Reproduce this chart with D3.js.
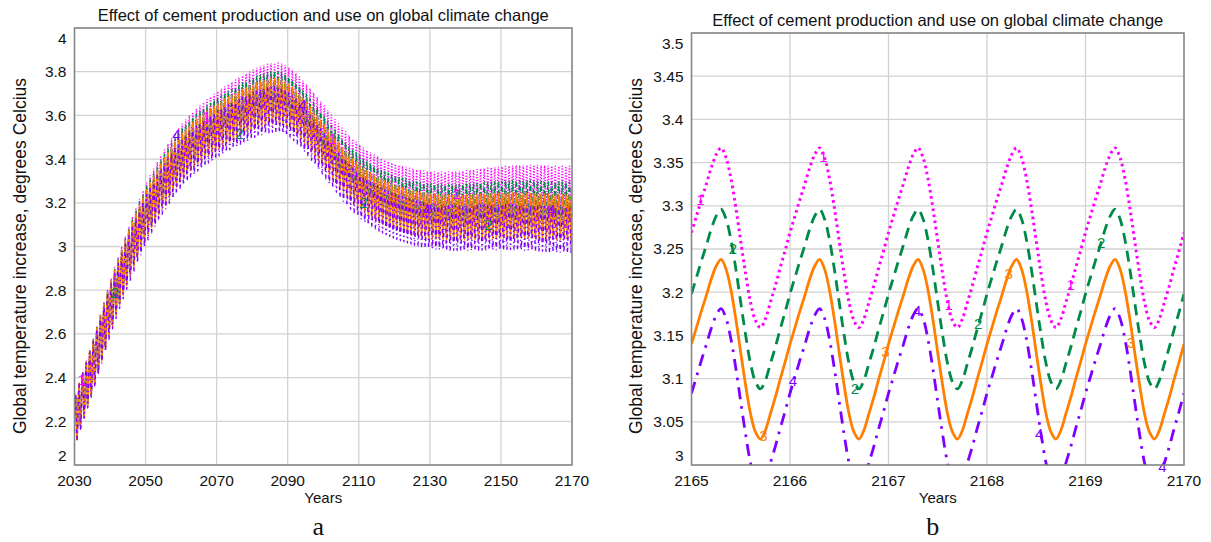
<!DOCTYPE html>
<html>
<head>
<meta charset="utf-8">
<script src="https://cdn.jsdelivr.net/npm/d3@7"></script>
<style>
  body { margin: 0; background: #fff; }
  svg { display: block; font-family: "Liberation Sans", Arial, sans-serif; }
  .grid line { stroke: #d2d2d2; stroke-width: 1.3; }
  .tick-label { font-size: 15.5px; fill: #111; }
  .axis-title { font-size: 15px; fill: #111; }
  .y-title { font-size: 17.5px; fill: #111; }
  .ttl { font-size: 16.5px; fill: #111; }
  .letter { font-family: "Liberation Serif", "Times New Roman", serif; font-size: 26px; fill: #111; }
</style>
</head>
<body>
<div id="chart"></div>
<script>
// annual mean temperature increase per scenario, 2030..2170
var startYear = 2030
var meanS1 = [2.220,2.271,2.322,2.373,2.424,2.475,2.531,2.587,2.643,2.699,
  2.750,2.800,2.849,2.896,2.943,2.988,3.032,3.074,3.114,3.152,
  3.188,3.221,3.252,3.283,3.312,3.339,3.366,3.391,3.415,3.437,
  3.458,3.477,3.495,3.511,3.527,3.541,3.556,3.569,3.582,3.594,
  3.607,3.618,3.629,3.639,3.649,3.659,3.669,3.678,3.687,3.696,
  3.705,3.713,3.720,3.726,3.731,3.735,3.737,3.737,3.733,3.726,
  3.715,3.703,3.689,3.673,3.656,3.638,3.619,3.600,3.580,3.560,
  3.540,3.520,3.499,3.479,3.459,3.440,3.422,3.405,3.389,3.375,
  3.361,3.349,3.337,3.327,3.317,3.309,3.300,3.293,3.286,3.280,
  3.274,3.269,3.264,3.260,3.255,3.252,3.248,3.246,3.243,3.241,
  3.239,3.238,3.238,3.238,3.238,3.238,3.239,3.240,3.241,3.242,
  3.244,3.246,3.248,3.250,3.252,3.254,3.256,3.258,3.259,3.261,
  3.262,3.264,3.265,3.266,3.267,3.268,3.268,3.269,3.269,3.270,
  3.269,3.268,3.267,3.266,3.265,3.264,3.264,3.264,3.264,3.264,3.264]
var meanS2 = [2.220,2.270,2.321,2.371,2.422,2.472,2.528,2.583,2.639,2.694,
  2.745,2.793,2.841,2.887,2.933,2.977,3.020,3.061,3.100,3.137,
  3.172,3.204,3.234,3.265,3.293,3.320,3.346,3.371,3.394,3.416,
  3.436,3.454,3.471,3.487,3.502,3.515,3.529,3.541,3.553,3.565,
  3.577,3.588,3.598,3.607,3.617,3.626,3.635,3.644,3.652,3.661,
  3.669,3.677,3.683,3.689,3.693,3.697,3.698,3.698,3.693,3.686,
  3.674,3.661,3.647,3.630,3.612,3.594,3.574,3.555,3.534,3.514,
  3.493,3.473,3.452,3.431,3.411,3.392,3.374,3.356,3.340,3.325,
  3.312,3.299,3.287,3.277,3.267,3.258,3.249,3.241,3.234,3.228,
  3.222,3.216,3.211,3.207,3.202,3.198,3.194,3.191,3.188,3.186,
  3.184,3.183,3.182,3.182,3.181,3.181,3.181,3.182,3.182,3.183,
  3.184,3.185,3.187,3.188,3.189,3.191,3.192,3.194,3.194,3.196,
  3.196,3.198,3.198,3.199,3.199,3.199,3.199,3.199,3.199,3.199,
  3.198,3.197,3.196,3.195,3.194,3.193,3.193,3.193,3.193,3.193,3.193]
var meanS3 = [2.220,2.270,2.320,2.370,2.420,2.470,2.525,2.580,2.635,2.690,
  2.740,2.788,2.835,2.880,2.925,2.968,3.010,3.050,3.088,3.124,
  3.158,3.190,3.220,3.250,3.278,3.304,3.330,3.354,3.377,3.398,
  3.418,3.436,3.452,3.467,3.481,3.494,3.507,3.519,3.530,3.541,
  3.552,3.562,3.572,3.581,3.590,3.599,3.608,3.616,3.624,3.632,
  3.640,3.647,3.653,3.658,3.662,3.665,3.666,3.665,3.660,3.652,
  3.640,3.627,3.612,3.595,3.577,3.558,3.538,3.518,3.497,3.476,
  3.455,3.434,3.413,3.392,3.372,3.352,3.334,3.316,3.300,3.285,
  3.271,3.258,3.246,3.235,3.225,3.216,3.207,3.199,3.192,3.185,
  3.179,3.173,3.168,3.163,3.158,3.154,3.150,3.147,3.144,3.141,
  3.139,3.137,3.136,3.135,3.134,3.133,3.133,3.133,3.133,3.133,
  3.134,3.135,3.136,3.137,3.138,3.139,3.140,3.141,3.141,3.142,
  3.142,3.143,3.143,3.143,3.143,3.143,3.142,3.142,3.141,3.141,
  3.140,3.139,3.138,3.137,3.136,3.135,3.135,3.135,3.135,3.135,3.135]
var meanS4 = [2.220,2.269,2.318,2.366,2.415,2.464,2.518,2.572,2.625,2.679,
  2.728,2.775,2.821,2.865,2.909,2.950,2.991,3.030,3.067,3.102,
  3.135,3.166,3.196,3.225,3.252,3.277,3.302,3.326,3.348,3.369,
  3.388,3.406,3.421,3.436,3.450,3.462,3.475,3.487,3.497,3.508,
  3.519,3.529,3.538,3.547,3.556,3.564,3.573,3.581,3.588,3.596,
  3.604,3.611,3.616,3.621,3.625,3.628,3.629,3.627,3.622,3.614,
  3.602,3.589,3.574,3.557,3.539,3.519,3.499,3.479,3.458,3.437,
  3.415,3.394,3.373,3.352,3.332,3.312,3.293,3.275,3.259,3.244,
  3.230,3.217,3.205,3.194,3.184,3.175,3.166,3.158,3.150,3.143,
  3.137,3.131,3.126,3.121,3.116,3.111,3.107,3.103,3.100,3.097,
  3.095,3.093,3.091,3.090,3.088,3.087,3.087,3.086,3.086,3.085,
  3.086,3.087,3.087,3.088,3.088,3.089,3.090,3.090,3.090,3.090,
  3.090,3.091,3.090,3.090,3.089,3.089,3.088,3.087,3.086,3.085,
  3.084,3.083,3.082,3.080,3.079,3.078,3.078,3.078,3.078,3.078,3.078]

// seasonal swing around the annual mean, 20 steps per year
var cycle = [0.005,0.024,0.043,0.061,0.080,0.095,0.103,0.092,0.068,0.034,
  -0.005,-0.043,-0.076,-0.097,-0.105,-0.095,-0.076,-0.057,-0.036,-0.016]

var seriesNames = ['1', '2', '3', '4']
var seriesColors = ['#ff00ff', '#008a48', '#ff7f00', '#7f00ff']
var seriesMeans = [meanS1, meanS2, meanS3, meanS4]

var xTicksA = [2030, 2050, 2070, 2090, 2110, 2130, 2150, 2170]
var yTicksA = [2, 2.2, 2.4, 2.6, 2.8, 3, 3.2, 3.4, 3.6, 3.8, 4]
var xTicksB = [2165, 2166, 2167, 2168, 2169, 2170]
var yTicksB = [3, 3.05, 3.1, 3.15, 3.2, 3.25, 3.3, 3.35, 3.4, 3.45, 3.5]

// curve number labels [series index, year, value]
var labelsA = [[0, 2032, 2.39], [1, 2041.4, 2.787], [3, 2058.7, 3.51], [0, 2067.2, 3.594],
  [1, 2076.4, 3.515], [3, 2094.2, 3.65], [0, 2102.7, 3.495], [1, 2111.3, 3.198],
  [3, 2129.2, 3.17], [0, 2137.6, 3.243], [1, 2146.5, 3.098], [3, 2164.2, 3.167]]
var labelsB = [[0, 2165.09, 3.307], [1, 2165.42, 3.25], [2, 2165.73, 3.034], [3, 2166.03, 3.098],
  [0, 2166.34, 3.357], [1, 2166.66, 3.088], [2, 2166.97, 3.131], [3, 2167.29, 3.179],
  [0, 2167.61, 3.186], [1, 2167.91, 3.163], [2, 2168.22, 3.221], [3, 2168.53, 3.036],
  [0, 2168.85, 3.209], [1, 2169.16, 3.257], [2, 2169.46, 3.142], [3, 2169.78, 2.998]]

var W = 1211, H = 542

var svg = d3.select('#chart').append('svg')
    .attr('width', W)
    .attr('height', H)

function buildPoints(means, fromYear, toYear) {
    var pts = []
    for (var y = fromYear; y < toYear; y++) {
        cycle.forEach(function(c, k) {
            pts.push([y + k / cycle.length, means[y - startYear] + c])
        })
    }
    pts.push([toYear, means[toYear - startYear] + cycle[0]])
    return pts
}

function panel(opt) {
    var x = d3.scaleLinear().domain(opt.xDomain).range([opt.left, opt.right])
    var y = d3.scaleLinear().domain(opt.yDomain).range([opt.bottom, opt.top])
    var g = svg.append('g')

    g.append('clipPath').attr('id', opt.id)
        .append('rect')
        .attr('x', opt.left).attr('y', opt.top)
        .attr('width', opt.right - opt.left).attr('height', opt.bottom - opt.top)

    var grid = g.append('g').attr('class', 'grid')
    grid.selectAll('.vx').data(opt.xTicks).enter().append('line')
        .attr('x1', function(d){return x(d)}).attr('x2', function(d){return x(d)})
        .attr('y1', opt.top).attr('y2', opt.bottom)
    grid.selectAll('.hy').data(opt.yTicks).enter().append('line')
        .attr('x1', opt.left).attr('x2', opt.right)
        .attr('y1', function(d){return y(d)}).attr('y2', function(d){return y(d)})

    var line = d3.line()
        .x(function(d){return x(d[0])})
        .y(function(d){return y(d[1])})
        .curve(d3.curveCatmullRom)

    var lines = g.append('g').attr('clip-path', 'url(#' + opt.id + ')')
    seriesMeans.forEach(function(m, i) {
        lines.append('path')
            .datum(buildPoints(m, opt.xDomain[0], opt.xDomain[1]))
            .attr('d', line)
            .attr('fill', 'none')
            .attr('stroke', seriesColors[i])
            .attr('stroke-width', opt.widths[i])
            .attr('stroke-dasharray', opt.dashes[i])
    })

    g.append('g').selectAll('text').data(opt.labels).enter().append('text')
        .attr('x', function(d){return x(d[1])})
        .attr('y', function(d){return y(d[2])})
        .attr('dy', '0.35em')
        .attr('text-anchor', 'middle')
        .style('font-size', '15px')
        .style('fill', function(d){return seriesColors[d[0]]})
        .text(function(d){return seriesNames[d[0]]})

    g.append('rect')
        .attr('x', opt.left).attr('y', opt.top)
        .attr('width', opt.right - opt.left).attr('height', opt.bottom - opt.top)
        .attr('fill', 'none').attr('stroke', '#858585').attr('stroke-width', 1.5)

    // y tick labels, first and last nudged inside the box
    var last = opt.yTicks.length - 1
    g.selectAll('.yl').data(opt.yTicks).enter().append('text')
        .attr('class', 'tick-label')
        .attr('x', opt.left - 8)
        .attr('y', function(d, i){ return y(d) + (i === 0 ? -9 : i === last ? 11 : 0) })
        .attr('dy', '0.35em')
        .attr('text-anchor', 'end')
        .text(function(d){return d})

    g.selectAll('.xl').data(opt.xTicks).enter().append('text')
        .attr('class', 'tick-label')
        .attr('x', function(d){return x(d)})
        .attr('y', opt.bottom + 21)
        .attr('text-anchor', 'middle')
        .text(function(d){return d})

    var cx = (opt.left + opt.right) / 2
    g.append('text').attr('class', 'ttl')
        .attr('x', cx).attr('y', opt.titleY)
        .attr('text-anchor', 'middle')
        .text('Effect of cement production and use on global climate change')
    g.append('text').attr('class', 'axis-title')
        .attr('x', cx).attr('y', 503)
        .attr('text-anchor', 'middle')
        .text('Years')
    g.append('text').attr('class', 'y-title')
        .attr('transform', 'translate(' + opt.axisTitleX + ',' + opt.axisTitleY + ') rotate(-90)')
        .attr('text-anchor', 'middle')
        .text('Global temperature increase, degrees Celcius')
    g.append('text').attr('class', 'letter')
        .attr('x', cx - 5).attr('y', 535)
        .attr('text-anchor', 'middle')
        .text(opt.letter)
}

panel({
    id: 'clipA', letter: 'a',
    left: 74.5, right: 572, top: 28, bottom: 465,
    xDomain: [2030, 2170], yDomain: [2, 4],
    xTicks: xTicksA, yTicks: yTicksA,
    titleY: 21, axisTitleX: 26, axisTitleY: 256,
    widths: [1.4, 1.4, 1.4, 1.4],
    dashes: ['1.2,1.6', '5,3', null, '4,3,1.2,3'],
    labels: labelsA
})

panel({
    id: 'clipB', letter: 'b',
    left: 691.5, right: 1184, top: 33, bottom: 465,
    xDomain: [2165, 2170], yDomain: [3, 3.5],
    xTicks: xTicksB, yTicks: yTicksB,
    titleY: 26, axisTitleX: 642, axisTitleY: 256,
    widths: [3, 2.8, 2.8, 2.8],
    dashes: ['2.6,3.6', '11,7', null, '12,7,2.6,7'],
    labels: labelsB
})
</script>
</body>
</html>
